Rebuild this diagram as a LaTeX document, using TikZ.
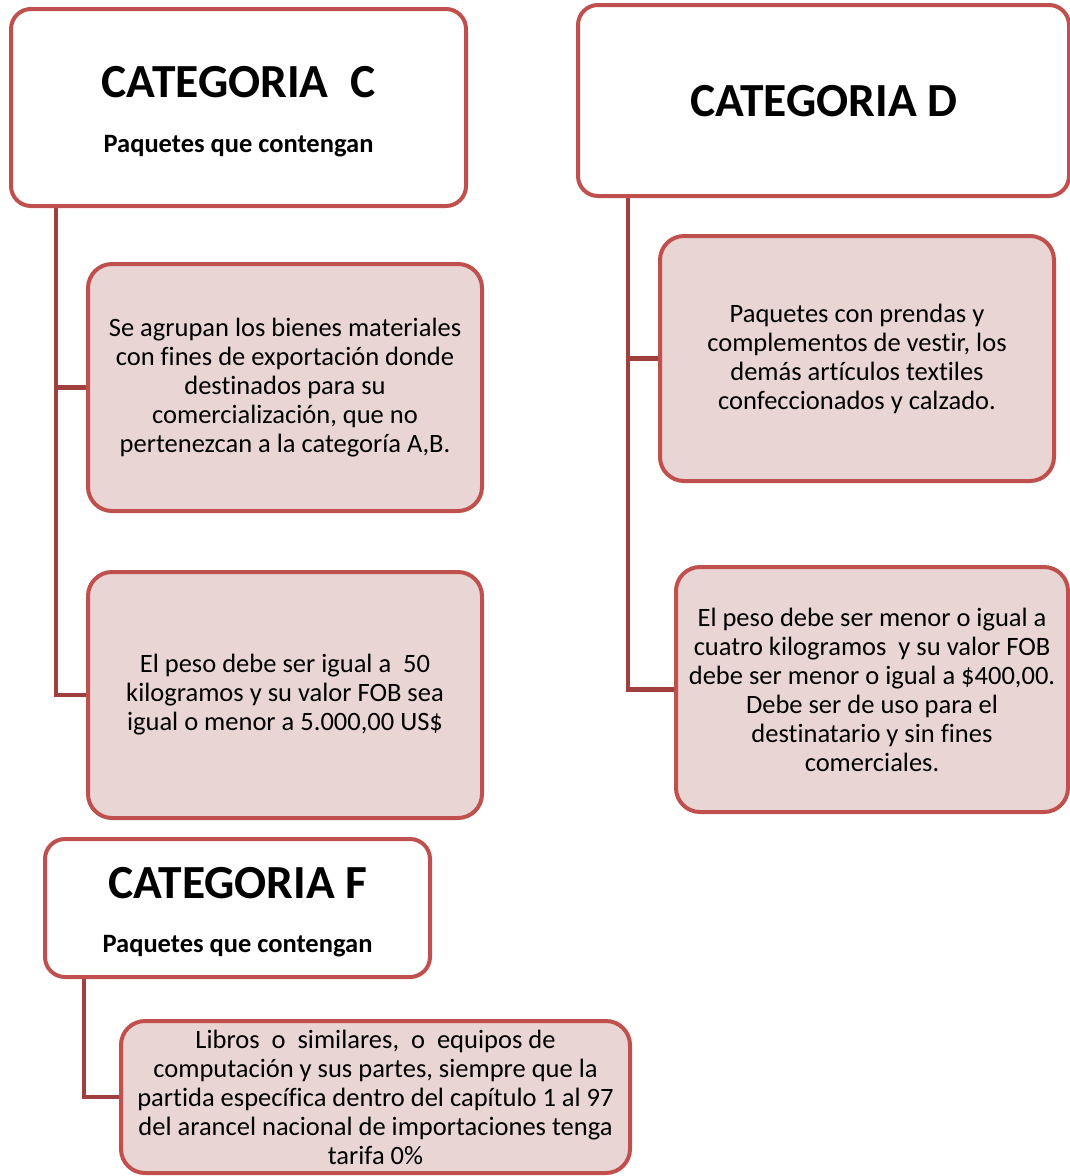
\documentclass[tikz,border=0pt]{standalone}
\usepackage{fontspec}
\usetikzlibrary{backgrounds}
\setmainfont{Carlito}[Ligatures=NoCommon]
\definecolor{bordercol}{HTML}{C0504D}
\definecolor{conncol}{HTML}{A0403E}
\definecolor{fillcol}{HTML}{EAD5D5}
\begin{document}
\begin{tikzpicture}[x=1pt,y=-1pt,
  catbox/.style={draw=bordercol, line width=4pt, fill=white, rounded corners=20pt, inner sep=0pt},
  childbox/.style={draw=bordercol, line width=4pt, fill=fillcol, rounded corners=24pt, inner sep=0pt, align=center,
     font=\fontsize{26.5}{29}\selectfont},
  conn/.style={draw=conncol, line width=4.5pt},
  titletxt/.style={anchor=base, inner sep=0pt, font=\fontsize{47.5}{50}\selectfont\bfseries},
  subtxt/.style={anchor=base, inner sep=0pt, font=\fontsize{26.5}{29}\selectfont\bfseries}]
\useasboundingbox (0,0) rectangle (1070,1176);

% category C
\node[catbox, minimum width=455pt, minimum height=197pt] (catC) at (238.5,107.5) {};
\node[childbox, minimum width=394pt, minimum height=247pt] (c1) at (285,387.5)
 {Se agrupan los bienes materiales\\con fines de exportación donde\\destinados para su\\comercialización, que no\\pertenezcan a la categoría A,B.};
\node[childbox, minimum width=394pt, minimum height=246pt] (c2) at (285,695)
 {El peso debe ser igual a\ \ 50\\kilogramos y su valor FOB sea\\igual o menor a 5.000,00 US\$};
\node[titletxt] (tC) at (238.5,97) {CATEGORIA\ \ C};
\node[subtxt] (sC) at (238.5,152) {Paquetes que contengan};

% category D
\node[catbox, minimum width=491pt, minimum height=191pt] (catD) at (823.5,100.5) {};
\node[childbox, minimum width=394pt, minimum height=245pt] (d1) at (857,358.5)
 {Paquetes con prendas y\\complementos de vestir, los\\demás artículos textiles\\confeccionados y calzado.};
\node[childbox, minimum width=392pt, minimum height=245pt] (d2) at (872,689.5)
 {El peso debe ser menor o igual a\\cuatro kilogramos\ \ y su valor FOB\\debe ser menor o igual a \$400,00.\\Debe ser de uso para el\\destinatario y sin fines\\comerciales.};
\node[titletxt] (tD) at (824,116) {CATEGORIA D};

% category F
\node[catbox, minimum width=385pt, minimum height=138pt] (catF) at (237.5,908) {};
\node[childbox, minimum width=509pt, minimum height=152pt] (f1) at (375.5,1097)
 {Libros\ \ o\ \ similares,\ \ o\ \ equipos de\\computación y sus partes, siempre que la\\partida específica dentro del capítulo 1 al 97\\del arancel nacional de importaciones tenga\\tarifa 0\%};
\node[titletxt] (tF) at (238,898) {CATEGORIA F};
\node[subtxt] (sF) at (237.5,952) {Paquetes que contengan};

% connectors
\begin{scope}[on background layer]
\fill[white] (0,0) rectangle (1070,1176);
\draw[conn] ([xshift=47pt]catC.south west) |- (c1.west);
\draw[conn] ([xshift=47pt]catC.south west) |- (c2.west);
\draw[conn] ([xshift=52pt]catD.south west) |- (d1.west);
\draw[conn] ([xshift=41pt]catF.south west) |- (f1.west);
\draw[conn] ([xshift=52pt]catD.south west) |- (d2.west);
\end{scope}
\end{tikzpicture}
\end{document}
